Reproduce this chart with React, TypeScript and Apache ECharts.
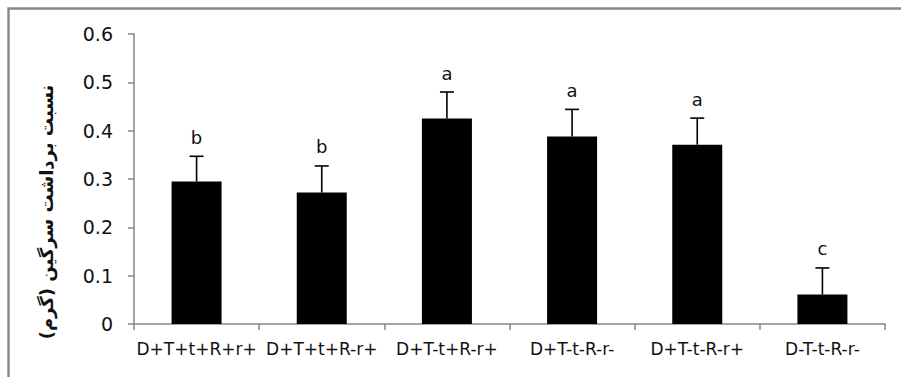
import React, { useEffect, useRef } from "react";
import * as echarts from "echarts";

const categories = ["D+T+t+R+r+", "D+T+t+R-r+", "D+T-t+R-r+", "D+T-t-R-r-", "D+T-t-R-r+", "D-T-t-R-r-"];
const means = [0.295, 0.272, 0.425, 0.388, 0.371, 0.061];
const errors = [0.052, 0.055, 0.055, 0.056, 0.055, 0.055];
const letters = ["b", "b", "a", "a", "a", "c"];
const yTitle = "نسبت برداشت سرگین (گرم)";

const AXIS = "#868686";
const TXT = "#111111";

export default function App() {
  const ref = useRef<HTMLDivElement>(null);
  useEffect(() => {
    if (!ref.current) return;
    const chart = echarts.init(ref.current, null, { renderer: "svg" });
    chart.setOption({
      animation: false,
      backgroundColor: "#ffffff",
      grid: { left: 134, right: 16, top: 34, bottom: 53, containLabel: false },
      xAxis: {
        type: "category",
        data: categories,
        axisLine: { lineStyle: { color: AXIS, width: 1.5 } },
        axisTick: { show: true, length: 6, lineStyle: { color: AXIS, width: 1.5 } },
        axisLabel: { color: TXT, fontFamily: "DejaVu Sans", fontSize: 17, margin: 16, interval: 0 },
      },
      yAxis: {
        type: "value",
        min: 0,
        max: 0.6,
        interval: 0.1,
        splitLine: { show: false },
        axisLine: { show: true, lineStyle: { color: AXIS, width: 1.5 } },
        axisTick: { show: true, length: 6, lineStyle: { color: AXIS, width: 1.5 } },
        axisLabel: { color: TXT, fontFamily: "DejaVu Sans", fontSize: 19, margin: 21 },
      },
      graphic: [
        {
          type: "rect",
          shape: { x: 8.5, y: 8.5, width: 1200, height: 1200 },
          style: { fill: "none", stroke: AXIS, lineWidth: 2.4 },
          silent: true,
        },
        {
          type: "text",
          x: 46,
          y: 212,
          rotation: Math.PI / 2,
          style: {
            text: yTitle,
            fill: TXT,
            font: "bold 18px 'DejaVu Sans'",
            align: "center",
            verticalAlign: "middle",
          },
        },
      ],
      series: [
        {
          type: "bar",
          data: means,
          barWidth: 50,
          itemStyle: { color: "#000000" },
        },
        {
          type: "custom",
          data: means.map((m, i) => [i, m, errors[i]]),
          encode: { x: 0, y: 1 },
          z: 3,
          renderItem: (params: any, api: any) => {
            const i = api.value(0);
            const m = api.value(1);
            const e = api.value(2);
            const base = api.coord([i, m]);
            const top = api.coord([i, m + e]);
            const half = 7;
            return {
              type: "group",
              children: [
                {
                  type: "line",
                  shape: { x1: top[0], y1: base[1], x2: top[0], y2: top[1] },
                  style: { stroke: "#000", lineWidth: 1.6 },
                },
                {
                  type: "line",
                  shape: { x1: top[0] - half, y1: top[1], x2: top[0] + half, y2: top[1] },
                  style: { stroke: "#000", lineWidth: 1.6 },
                },
                {
                  type: "text",
                  x: top[0],
                  y: top[1] - 19,
                  style: {
                    text: letters[params.dataIndex],
                    fill: TXT,
                    font: "18px 'DejaVu Sans'",
                    align: "center",
                    verticalAlign: "middle",
                  },
                },
              ],
            };
          },
        },
      ],
    });
    return () => chart.dispose();
  }, []);
  return (
    <div
      ref={ref}
      style={{ position: "absolute", left: 0, top: 0, width: 901, height: 377 }}
    />
  );
}
